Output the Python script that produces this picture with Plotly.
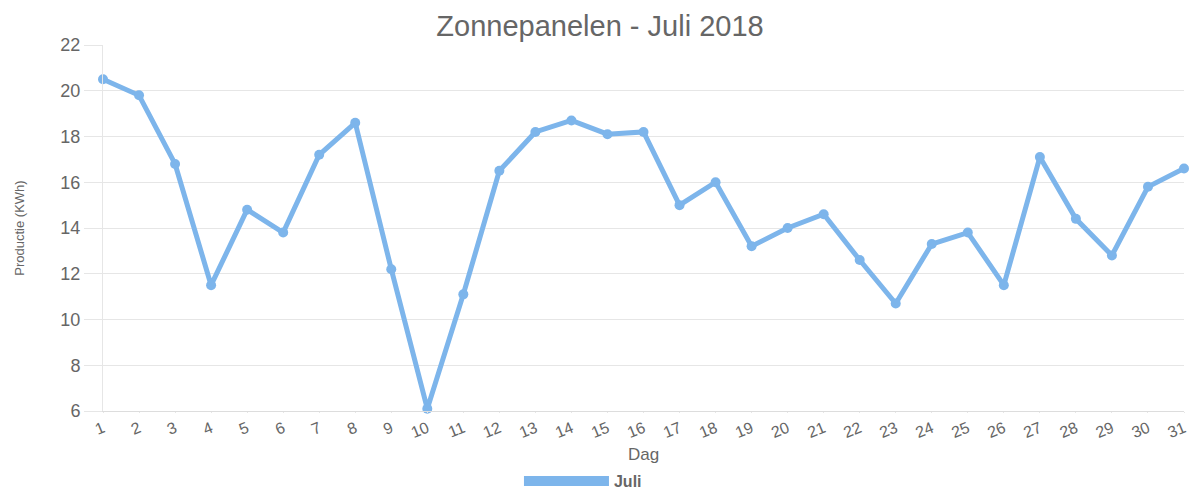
import plotly.graph_objects as go

days = list(range(1, 32))
day_labels = [str(d) for d in days]
production = [20.5, 19.8, 16.8, 11.5, 14.8, 13.8, 17.2, 18.6, 12.2, 6.1,
              11.1, 16.5, 18.2, 18.7, 18.1, 18.2, 15.0, 16.0, 13.2, 14.0,
              14.6, 12.6, 10.7, 13.3, 13.8, 11.5, 17.1, 14.4, 12.8, 15.8, 16.6]
y_ticks = [6, 8, 10, 12, 14, 16, 18, 20, 22]
series_name = "Juli"

color = "#7db5eb"
grey = "#666666"
font = "Liberation Sans, Arial, sans-serif"

fig = go.Figure()
fig.add_trace(go.Scatter(
    x=days, y=production, mode="lines+markers", name=series_name,
    line=dict(color=color, width=5), marker=dict(color=color, size=10),
    showlegend=False, cliponaxis=False,
))
fig.add_trace(go.Scatter(
    x=[None], y=[None], mode="lines", name="<b>" + series_name + "</b>",
    line=dict(color=color, width=15), showlegend=True,
))

fig.update_layout(
    width=1184, height=484,
    margin=dict(l=95, r=8, t=37, b=81),
    paper_bgcolor="white", plot_bgcolor="white",
    font=dict(family=font, color=grey, size=15),
    title=dict(text="Zonnepanelen - Juli 2018", x=0.5, xanchor="center",
               yref="container", y=0.964, yanchor="middle",
               font=dict(size=29, color=grey, family=font)),
    xaxis=dict(
        range=[1, 31], tickmode="array", tickvals=days, ticktext=day_labels,
        tickangle=-22, showgrid=False, zeroline=False, automargin=False,
        showline=True, linecolor="#dddddd", ticks="outside", ticklen=1,
        tickcolor="#e6e6e6", tickfont=dict(size=16, color=grey),
        title=dict(text="Dag", font=dict(size=17, color=grey), standoff=18),
    ),
    yaxis=dict(
        range=[6, 22], tickmode="array", tickvals=y_ticks, automargin=False,
        showgrid=True, gridcolor="#e6e6e6", zeroline=False,
        showline=True, linecolor="#e6e6e6", ticks="outside", ticklen=18,
        tickcolor="#e6e6e6", tickfont=dict(size=18, color=grey),
        title=dict(text="Productie (KWh)", font=dict(size=13, color=grey), standoff=32),
    ),
    legend=dict(orientation="h", x=0.444, xanchor="center",
                yref="container", y=0.0227, yanchor="middle",
                itemwidth=85, font=dict(size=16, color=grey, family=font)),
)

fig.write_html("out.html")
